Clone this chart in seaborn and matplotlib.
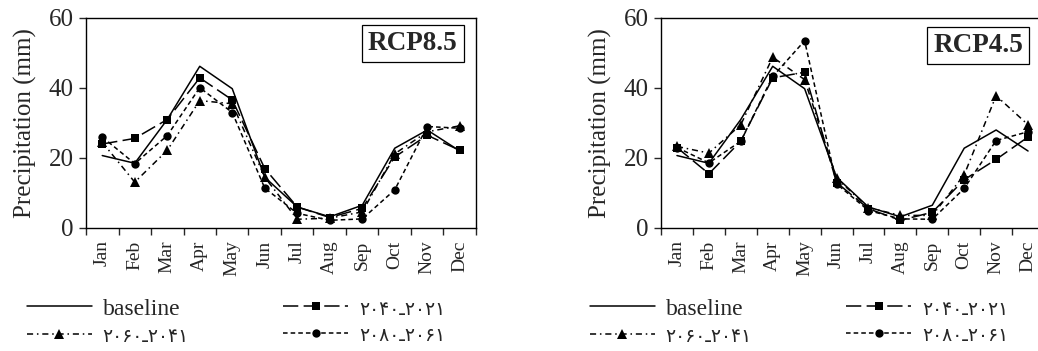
import numpy as np
import pandas as pd
import matplotlib
matplotlib.use("Agg")
import matplotlib.pyplot as plt
import seaborn as sns

months = ["Jan", "Feb", "Mar", "Apr", "May", "Jun", "Jul", "Aug", "Sep", "Oct", "Nov", "Dec"]
labels = ["baseline", "۲۰۴۰ـ۲۰۲۱", "۲۰۶۰ـ۲۰۴۱", "۲۰۸۰ـ۲۰۶۱"]

baseline = [20.7, 18.5, 31.0, 46.2, 39.8, 14.5, 6.0, 3.2, 6.5, 22.8, 28.0, 22.0]

rcp85_2040 = [24.0, 25.6, 31.0, 42.9, 36.6, 17.0, 6.0, 3.0, 5.6, 20.3, 26.5, 22.2]
rcp85_2060 = [24.5, 13.1, 22.2, 36.4, 35.5, 14.5, 2.5, 2.8, 4.6, 21.2, 27.5, 29.2]
rcp85_2080 = [26.0, 18.4, 26.4, 40.1, 33.0, 11.4, 4.2, 2.2, 2.6, 10.9, 29.0, 28.5]

rcp45_2040 = [23.0, 15.5, 24.8, 42.9, 44.5, 13.0, 5.5, 2.2, 4.5, 13.8, 19.6, 26.0]
rcp45_2060 = [23.3, 21.4, 29.5, 48.8, 42.4, 14.2, 5.8, 3.6, 3.6, 15.2, 37.8, 29.5]
rcp45_2080 = [23.0, 18.6, 24.8, 43.3, 53.5, 12.6, 5.0, 2.6, 2.5, 11.3, 25.0, 27.5]

yticks = [0, 20, 40, 60]

sns.set_style("white")
plt.rcParams["font.family"] = ["Liberation Serif", "DejaVu Sans"]

W, H = 1038, 351
fig = plt.figure(figsize=(W / 100, H / 100), dpi=100)

styles = [
    dict(marker=None, linestyle="-"),
    dict(marker="s", linestyle=(0, (10, 3.5))),
    dict(marker="^", linestyle=(0, (4, 2.5, 1, 2.5))),
    dict(marker="o", linestyle=(0, (3, 2))),
]


def panel(rect, series, title, title_xy, legend_x):
    ax = fig.add_axes(rect)
    x = np.arange(len(months))
    for vals, lab, st in zip(series, labels, styles):
        df = pd.DataFrame({"m": x, "v": vals})
        sns.lineplot(data=df, x="m", y="v", ax=ax, color="black", lw=1.1,
                     linestyle=st["linestyle"], marker=st["marker"],
                     markersize=6 if st["marker"] != "^" else 6.5,
                     markeredgewidth=0, label=lab, legend=False, clip_on=False)
    ax.set_xlim(-0.5, 11.5)
    ax.set_ylim(0, 60)
    ax.set_yticks(yticks)
    ax.set_yticklabels([str(v) for v in yticks], fontsize=18)
    ax.set_xticks(np.arange(-0.5, 12, 1))
    ax.set_xticklabels([])
    ax.set_xticks(x, minor=True)
    ax.set_xticklabels(months, minor=True, rotation=90, fontsize=14)
    ax.tick_params(axis="x", which="major", direction="out", length=5, width=1.0, bottom=True)
    ax.tick_params(axis="x", which="minor", length=0, pad=9)
    ax.tick_params(axis="y", direction="out", length=5, width=1.0, left=True, pad=4)
    ax.set_xlabel("")
    ax.set_ylabel("Precipitation (mm)", fontsize=18, labelpad=8)
    for s in ax.spines.values():
        s.set_color("black")
        s.set_linewidth(1.0)
        s.set_visible(True)
    ax.text(title_xy[0], title_xy[1], title, transform=ax.transAxes, fontsize=19.5,
            fontweight="bold", ha="center", va="center",
            bbox=dict(boxstyle="square,pad=0.22", fc="white", ec="black", lw=0.9))
    lines = ax.get_lines()
    order = [0, 2, 1, 3]
    h = [lines[i] for i in order]
    l = [labels[i] for i in order]
    leg = ax.legend(h, l, loc="upper left", ncol=2, frameon=False,
                    bbox_to_anchor=(legend_x / W, 1 - 298 / H), bbox_transform=fig.transFigure,
                    borderaxespad=0, borderpad=0, fontsize=17, handlelength=2.75,
                    handletextpad=0.45, labelspacing=0.25, columnspacing=4.0)
    for t in leg.get_texts():
        if t.get_text() != "baseline":
            t.set_fontsize(13.5)
    return ax


panel([86 / W, 123 / H, 390 / W, 210 / H], [baseline, rcp85_2040, rcp85_2060, rcp85_2080],
      "RCP8.5", (0.838, 0.88), 27)
panel([661 / W, 123 / H, 383 / W, 210 / H], [baseline, rcp45_2040, rcp45_2060, rcp45_2080],
      "RCP4.5", (0.828, 0.87), 590)

fig.savefig("out.png", dpi=100)
